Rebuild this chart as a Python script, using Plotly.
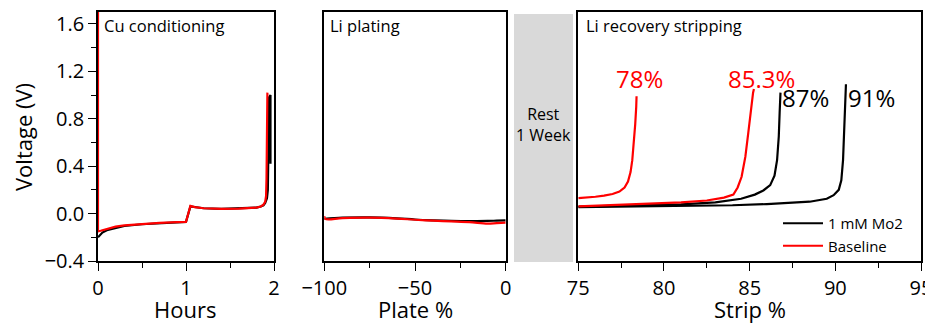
import plotly.graph_objects as go

# ---------------- data ----------------
# Cu conditioning (Hours vs Voltage)
cu_mo_x = [0, 0.02, 0.05, 0.1, 0.2, 0.3, 0.5, 0.7, 0.9, 1.0, 1.05, 1.1, 1.2, 1.4, 1.6, 1.8, 1.85, 1.88, 1.9, 1.92, 1.93, 1.935, 1.94, 1.945, 1.96, 1.96]
cu_mo_y = [-0.2, -0.18, -0.16, -0.14, -0.12, -0.105, -0.09, -0.08, -0.073, -0.07, 0.06, 0.055, 0.045, 0.04, 0.042, 0.05, 0.06, 0.07, 0.09, 0.13, 0.2, 0.4, 0.7, 0.98, 1.0, 0.42]
cu_base_x = [0, 0, 0.03, 0.1, 0.2, 0.3, 0.5, 0.7, 0.9, 1.0, 1.05, 1.1, 1.2, 1.4, 1.6, 1.8, 1.85, 1.88, 1.9, 1.91, 1.915, 1.92, 1.925]
cu_base_y = [1.75, -0.15, -0.145, -0.13, -0.11, -0.1, -0.088, -0.078, -0.072, -0.07, 0.065, 0.055, 0.045, 0.04, 0.042, 0.05, 0.06, 0.075, 0.1, 0.15, 0.3, 0.6, 1.02]

# Li plating (Plate % vs Voltage)
pl_mo_x = [-100, -90, -75, -60, -50, -40, -30, -20, -10, -5, 0]
pl_mo_y = [-0.045, -0.035, -0.032, -0.04, -0.05, -0.057, -0.062, -0.064, -0.062, -0.06, -0.058]
pl_base_x = [-100, -99.5, -90, -75, -60, -50, -40, -30, -20, -10, -5, 0]
pl_base_y = [-0.02, -0.045, -0.038, -0.034, -0.042, -0.052, -0.06, -0.066, -0.072, -0.085, -0.08, -0.076]

# Li recovery stripping (Strip % vs Voltage)
st_mo1_x = [75, 78, 81, 83, 84.5, 85.3, 85.8, 86.2, 86.45, 86.6, 86.7, 86.75, 86.8]
st_mo1_y = [0.058, 0.065, 0.078, 0.095, 0.125, 0.16, 0.195, 0.24, 0.32, 0.45, 0.65, 0.85, 1.02]
st_mo2_x = [75, 80, 84, 86, 87.5, 88.5, 89.5, 89.9, 90.2, 90.35, 90.45, 90.52, 90.58, 90.62]
st_mo2_y = [0.055, 0.06, 0.07, 0.08, 0.09, 0.1, 0.125, 0.155, 0.2, 0.28, 0.45, 0.7, 0.95, 1.09]
st_b1_x = [75, 75.5, 76, 76.5, 77, 77.4, 77.7, 77.9, 78.05, 78.15, 78.25, 78.32, 78.38, 78.4]
st_b1_y = [0.13, 0.135, 0.142, 0.152, 0.165, 0.185, 0.22, 0.27, 0.35, 0.45, 0.6, 0.75, 0.9, 0.99]
st_b2_x = [75, 77, 79, 81, 82.5, 83.5, 84.05, 84.3, 84.53, 84.75, 84.92, 85.05, 85.12, 85.2, 85.25]
st_b2_y = [0.06, 0.07, 0.08, 0.095, 0.11, 0.135, 0.16, 0.22, 0.31, 0.48, 0.68, 0.85, 0.96, 1.02, 1.05]

labels_text = ["78%", "85.3%", "87%", "91%"]
labels_x = [78.55, 85.7, 86.78, 90.6]
labels_y = [1.14, 1.14, 0.98, 0.98]
labels_col = ["red", "red", "black", "black"]

RED = "#ff0000"
BLK = "#000000"
FONT = "Open Sans"
W, H = 933, 323
OFF = 8  # page body margin offset

def px_x(p):
    return (p - OFF) / W

def px_y(p):
    return 1 - (p - OFF) / H

fig = go.Figure()

lw = 2.2
fig.add_trace(go.Scatter(x=cu_mo_x, y=cu_mo_y, mode="lines", line=dict(color=BLK, width=lw), showlegend=False, xaxis="x", yaxis="y"))
fig.add_trace(go.Scatter(x=cu_base_x, y=cu_base_y, mode="lines", line=dict(color=RED, width=lw), showlegend=False, xaxis="x", yaxis="y"))
fig.add_trace(go.Scatter(x=pl_mo_x, y=pl_mo_y, mode="lines", line=dict(color=BLK, width=lw, shape="spline"), showlegend=False, xaxis="x2", yaxis="y2"))
fig.add_trace(go.Scatter(x=pl_base_x, y=pl_base_y, mode="lines", line=dict(color=RED, width=lw, shape="spline"), showlegend=False, xaxis="x2", yaxis="y2"))
fig.add_trace(go.Scatter(x=st_mo1_x, y=st_mo1_y, mode="lines", line=dict(color=BLK, width=lw), name="1 mM Mo2", showlegend=True, legendrank=1, xaxis="x3", yaxis="y3"))
fig.add_trace(go.Scatter(x=st_mo2_x, y=st_mo2_y, mode="lines", line=dict(color=BLK, width=lw), showlegend=False, xaxis="x3", yaxis="y3"))
fig.add_trace(go.Scatter(x=st_b1_x, y=st_b1_y, mode="lines", line=dict(color=RED, width=lw), name="Baseline", showlegend=True, legendrank=2, xaxis="x3", yaxis="y3"))
fig.add_trace(go.Scatter(x=st_b2_x, y=st_b2_y, mode="lines", line=dict(color=RED, width=lw), showlegend=False, xaxis="x3", yaxis="y3"))

ydom = [px_y(261), px_y(12)]
common_x = dict(showline=True, linecolor="black", linewidth=1.6, mirror=True, ticks="outside",
                ticklen=8, tickwidth=1.4, tickcolor="black", showgrid=False, zeroline=False,
                automargin=False, ticklabeloverflow="allow",
                tickfont=dict(family=FONT, size=20, color="black"))
common_y = dict(showline=True, linecolor="black", linewidth=1.6, mirror=True, showgrid=False,
                zeroline=False, range=[-0.4, 1.7], automargin=False)

fig.update_layout(
    width=W, height=H,
    margin=dict(l=0, r=0, t=0, b=0, pad=0, autoexpand=False),
    paper_bgcolor="white", plot_bgcolor="white",
    font=dict(family=FONT, color="black"),
    xaxis=dict(common_x, domain=[px_x(98), px_x(274)], range=[0, 2], dtick=1, tick0=0,
               minor=dict(dtick=0.5, ticks="outside", ticklen=5, tickcolor="black"), anchor="y"),
    yaxis=dict(common_y, domain=ydom, ticks="outside", ticklen=8, tickwidth=1.4, tickcolor="black",
               dtick=0.4, tick0=0, tickformat=".1f",
               tickfont=dict(family=FONT, size=20, color="black"),
               minor=dict(dtick=0.2, ticks="outside", ticklen=5, tickcolor="black"), anchor="x"),
    xaxis2=dict(common_x, domain=[px_x(324.3), px_x(505.7)], range=[-100, 0], dtick=50, tick0=0,
                minor=dict(dtick=25, ticks="outside", ticklen=5, tickcolor="black"), anchor="y2"),
    yaxis2=dict(common_y, domain=ydom, showticklabels=False, ticks="", anchor="x2"),
    xaxis3=dict(common_x, domain=[px_x(578.3), px_x(921)], range=[75, 95], dtick=5, tick0=75,
                minor=dict(dtick=2.5, ticks="outside", ticklen=5, tickcolor="black"), anchor="y3"),
    yaxis3=dict(common_y, domain=ydom, showticklabels=False, ticks="", anchor="x3"),
    legend=dict(x=px_x(778), y=px_y(207), xanchor="left", yanchor="top",
                font=dict(family=FONT, size=15, color="black"), bgcolor="rgba(0,0,0,0)",
                itemwidth=40, tracegroupgap=0),
    showlegend=True,
)

# Rest box
fig.add_shape(type="rect", xref="paper", yref="paper", x0=px_x(514), x1=px_x(573),
              y0=px_y(262), y1=px_y(14), fillcolor="#d9d9d9", line=dict(width=0), layer="below")

ann = []
ann.append(dict(text="Rest<br>1 Week", xref="paper", yref="paper", x=px_x(543.5), y=px_y(125),
                showarrow=False, font=dict(family=FONT, size=16, color="black"), xanchor="center", yanchor="middle"))
# panel titles
for t, xp in [("Cu conditioning", 102), ("Li plating", 328), ("Li recovery stripping", 584)]:
    ann.append(dict(text=t, xref="paper", yref="paper", x=px_x(xp), y=px_y(25.5), xanchor="left",
                    yanchor="middle", showarrow=False, font=dict(family=FONT, size=16.5, color="black")))
# axis titles
for t, xp in [("Hours", 185), ("Plate %", 415), ("Strip %", 750)]:
    ann.append(dict(text=t, xref="paper", yref="paper", x=px_x(xp), y=px_y(309), xanchor="center",
                    yanchor="middle", showarrow=False, font=dict(family=FONT, size=22, color="black")))
ann.append(dict(text="Voltage (V)", xref="paper", yref="paper", x=px_x(23), y=px_y(137), textangle=-90,
                xanchor="center", yanchor="middle", showarrow=False, font=dict(family=FONT, size=22, color="black")))
# percentage labels (data coords)
for t, xv, yv, c in zip(labels_text, labels_x, labels_y, labels_col):
    anchor = "center" if c == "red" else "left"
    ann.append(dict(text=t, xref="x3", yref="y3", x=xv, y=yv, xanchor=anchor, yanchor="middle",
                    showarrow=False, font=dict(family=FONT, size=24, color=c)))
fig.update_layout(annotations=ann)

fig.write_html("out.html")
